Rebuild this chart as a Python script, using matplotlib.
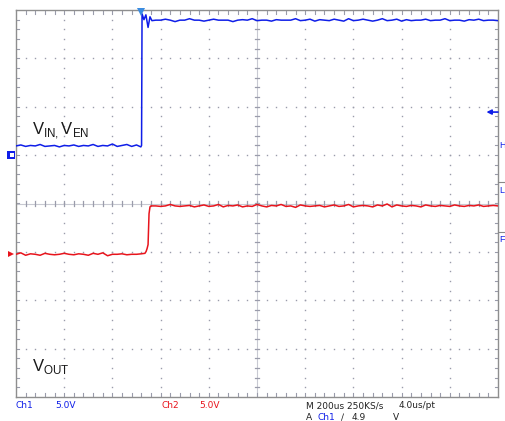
import matplotlib
matplotlib.use("Agg")
import matplotlib.pyplot as plt
import numpy as np

# scope settings
volts_per_div = 5.0
us_per_div = 200.0
ch1_offset = 1.0    # ground marker of Ch1, in divisions from centre
ch2_offset = -1.05  # ground marker of Ch2

# Ch1 (V_IN, V_EN) samples, volts, time in us from left edge of screen
ch1_low_t = [0, 20, 40, 60, 80, 100, 120, 140, 160, 180, 200, 220, 240, 260,
             280, 300, 320, 340, 360, 380, 400, 420, 440, 460, 480, 500, 518]
ch1_low_v = [0.95, 1.05, 0.9, 1.0, 0.95, 1.1, 0.9, 0.95, 1.0, 0.85, 1.0, 0.95,
             1.05, 0.9, 1.0, 0.95, 1.1, 0.9, 1.0, 0.95, 1.15, 0.9, 1.0, 1.1,
             0.9, 1.05, 0.85]
ch1_edge_t = [521, 523, 531, 539, 548, 556, 564]
ch1_edge_v = [1.0, 14.6, 14.0, 14.5, 13.2, 14.3, 13.9]
ch1_high_t = [580, 600, 620, 640, 660, 680, 700, 720, 740, 760, 780, 800, 820,
              840, 860, 880, 900, 920, 940, 960, 980, 1000, 1020, 1040, 1060,
              1080, 1100, 1120, 1140, 1160, 1180, 1200, 1220, 1240, 1260, 1280,
              1300, 1320, 1340, 1360, 1380, 1400, 1420, 1440, 1460, 1480, 1500,
              1520, 1540, 1560, 1580, 1600, 1620, 1640, 1660, 1680, 1700, 1720,
              1740, 1760, 1780, 1800, 1820, 1840, 1860, 1880, 1900, 1920, 1940,
              1960, 1980, 2000]
ch1_high_v = [13.95, 13.95, 14.05, 13.95, 13.8, 13.95, 13.95, 14.1, 13.95,
              13.95, 13.85, 13.95, 14.05, 13.95, 13.95, 13.95, 13.8, 13.95,
              14.0, 13.95, 14.1, 13.9, 13.95, 13.95, 13.85, 14.0, 13.95, 13.95,
              13.95, 14.1, 13.9, 13.95, 14.05, 13.85, 14.0, 13.95, 13.9, 14.05,
              13.95, 13.85, 14.1, 13.9, 13.95, 14.05, 13.95, 13.85, 13.95, 14.1,
              13.9, 13.95, 14.05, 13.85, 14.0, 13.9, 13.95, 13.95, 14.05, 13.9,
              13.95, 13.95, 14.1, 13.9, 13.95, 13.95, 13.85, 14.0, 13.95, 14.05,
              13.9, 13.95, 13.95, 13.9]

# Ch2 (V_OUT) samples
ch2_low_t = [0, 20, 40, 60, 80, 100, 120, 140, 160, 180, 200, 220, 240, 260,
             280, 300, 320, 340, 360, 380, 400, 420, 440, 460, 480, 500, 520, 535]
ch2_low_v = [0.0, 0.15, -0.1, 0.05, 0.0, -0.1, 0.1, 0.0, -0.05, 0.0, 0.1, 0.0,
             -0.05, 0.05, 0.0, -0.1, 0.1, 0.0, 0.15, -0.15, 0.0, 0.0, 0.05,
             -0.05, 0.0, 0.0, 0.05, 0.1]
ch2_edge_t = [540, 544, 548, 552, 556]
ch2_edge_v = [0.3, 0.6, 1.0, 4.2, 4.9]
ch2_high_t = [560, 580, 600, 620, 640, 660, 680, 700, 720, 740, 760, 780, 800,
              820, 840, 860, 880, 900, 920, 940, 960, 980, 1000, 1020, 1040,
              1060, 1080, 1100, 1120, 1140, 1160, 1180, 1200, 1220, 1240, 1260,
              1280, 1300, 1320, 1340, 1360, 1380, 1400, 1420, 1440, 1460, 1480,
              1500, 1520, 1540, 1560, 1580, 1600, 1620, 1640, 1660, 1680, 1700,
              1720, 1740, 1760, 1780, 1800, 1820, 1840, 1860, 1880, 1900, 1920,
              1940, 1960, 1980, 2000]
ch2_high_v = [5.0, 5.0, 4.95, 5.0, 5.15, 5.0, 4.95, 5.0, 5.05, 4.9, 5.0, 5.1,
              4.95, 5.0, 5.15, 4.9, 5.05, 5.0, 5.1, 4.9, 5.0, 4.95, 5.15, 5.0,
              4.9, 5.05, 5.0, 5.15, 4.95, 5.0, 4.85, 5.1, 5.0, 4.95, 5.0, 5.05,
              4.9, 5.0, 5.1, 4.95, 5.0, 5.15, 4.9, 5.0, 5.05, 5.0, 4.9, 5.1, 5.0,
              5.2, 4.9, 5.1, 5.0, 4.95, 5.05, 5.0, 4.9, 5.1, 5.0, 4.95, 5.05,
              5.0, 4.95, 5.1, 5.0, 4.95, 5.05, 5.0, 5.1, 4.95, 5.0, 5.05, 5.0]

trig_t = 519.0
labels = ["Ch1", "5.0V", "Ch2", "5.0V"]

blue = "#0f1ee8"
red = "#e8141c"
grid_c = "#9a9cab"

fig = plt.figure(figsize=(5.05, 4.21), dpi=100)
ax = fig.add_axes([16 / 505, 1 - 397 / 421, 482 / 505, 387 / 421])
ax.set_xlim(-5, 5)
ax.set_ylim(-4, 4)
ax.set_xticks([])
ax.set_yticks([])
for s in ax.spines.values():
    s.set_color("#8e8e8e")
    s.set_linewidth(1.0)

# graticule: dotted division lines
minor = np.arange(-4.8, 5.0, 0.2)
minor_y = np.arange(-3.8, 4.0, 0.2)
for k in range(-4, 5):
    if k == 0:
        continue
    ax.plot(np.full(len(minor_y), k), minor_y, ls="none", marker="s",
            ms=1.0, mew=0, color=grid_c)
for k in range(-3, 4):
    if k == 0:
        continue
    ax.plot(minor, np.full(len(minor), k), ls="none", marker="s",
            ms=1.0, mew=0, color=grid_c)

# centre lines with ticks
ax.axvline(0, color="#c8c9d2", lw=0.8)
ax.axhline(0, color="#c8c9d2", lw=0.8)
for y in minor_y:
    ax.plot([-0.05, 0.05], [y, y], color=grid_c, lw=0.9)
for x in minor:
    ax.plot([x, x], [-0.05, 0.05], color=grid_c, lw=0.9)

# border ticks
for x in minor:
    ax.plot([x, x], [4, 3.92], color=grid_c, lw=0.8)
    ax.plot([x, x], [-4, -3.92], color=grid_c, lw=0.8)
for y in minor_y:
    ax.plot([-5, -4.93], [y, y], color=grid_c, lw=0.8)
    ax.plot([5, 4.93], [y, y], color=grid_c, lw=0.8)

def to_x(t):
    return np.asarray(t, dtype=float) / us_per_div - 5

def to_y(v, off):
    return np.asarray(v, dtype=float) / volts_per_div + off

ch1_t = ch1_low_t + ch1_edge_t + ch1_high_t
ch1_v = ch1_low_v + ch1_edge_v + ch1_high_v
ch2_t = ch2_low_t + ch2_edge_t + ch2_high_t
ch2_v = ch2_low_v + ch2_edge_v + ch2_high_v

ax.plot(to_x(ch1_t), to_y(ch1_v, ch1_offset), color=blue, lw=1.1, zorder=5)
ax.plot(to_x(ch2_t), to_y(ch2_v, ch2_offset), color=red, lw=1.1, zorder=5)

# trigger position marker
ax.plot(to_x([trig_t]), [3.95], marker="v", ms=6, color="#3b8ce0",
        mew=0, clip_on=False, zorder=6)
# trigger level arrow on right edge
ax.annotate("", xy=(4.76, 1.89), xytext=(5.0, 1.89),
            arrowprops=dict(arrowstyle="-|>", color=blue, lw=1.2,
                            mutation_scale=7, shrinkA=0, shrinkB=0))

# channel ground markers on left
ax.plot([-5.1], [ch1_offset], marker="s", ms=6, color=blue, mew=0,
        clip_on=False, zorder=6)
ax.plot([-5.09], [ch1_offset], marker="s", ms=2.2, color="white", mew=0,
        clip_on=False, zorder=7)
ax.plot([-5.1], [ch2_offset], marker=">", ms=5, color=red, mew=0,
        clip_on=False, zorder=6)

# trace labels
ax.text(-4.66, 1.5, r"V$_{\mathregular{IN,}}$V$_{\mathregular{EN}}$",
        fontsize=12, family="Liberation Sans", color="#1a1a1a", va="center")
ax.text(-4.66, -3.37, r"V$_{\mathregular{OUT}}$",
        fontsize=12, family="Liberation Sans", color="#1a1a1a", va="center")

# right edge readouts (partly cut off in the original)
fig.text(499 / 505, 1 - 145 / 421, "H", fontsize=6.5, color=blue,
         family="Liberation Sans", va="center")
fig.text(499 / 505, 1 - 191 / 421, "L", fontsize=6.5, color=blue,
         family="Liberation Sans", va="center")
fig.text(499 / 505, 1 - 240 / 421, "F", fontsize=6.5, color=blue,
         family="Liberation Sans", va="center")
fig.add_artist(plt.Line2D([498 / 505, 1], [1 - 182 / 421] * 2,
                          color="#888888", lw=0.8))
fig.add_artist(plt.Line2D([498 / 505, 1], [1 - 232 / 421] * 2,
                          color="#888888", lw=0.8))

# bottom readouts
fs = 6.5
fam = "DejaVu Sans"
y1 = 1 - 406 / 421
y2 = 1 - 418 / 421
fig.text(16 / 505, y1, labels[0], fontsize=fs, color=blue, family=fam, va="center")
fig.text(55 / 505, y1, labels[1], fontsize=fs, color=blue, family=fam, va="center")
fig.text(161 / 505, y1, labels[2], fontsize=fs, color=red, family=fam, va="center")
fig.text(199 / 505, y1, labels[3], fontsize=fs, color=red, family=fam, va="center")
fig.text(306 / 505, y1, "M 200us 250KS/s", fontsize=fs, color="#222222",
         family=fam, va="center")
fig.text(399 / 505, y1, "4.0us/pt", fontsize=fs, color="#222222",
         family=fam, va="center")
fig.text(306 / 505, y2, "A", fontsize=fs, color="#222222", family=fam, va="center")
fig.text(317 / 505, y2, "Ch1", fontsize=fs, color=blue, family=fam, va="center")
fig.text(341 / 505, y2, "\u2215", fontsize=fs, color="#222222", family=fam, va="center")
fig.text(352 / 505, y2, "4.9", fontsize=fs, color="#222222", family=fam, va="center")
fig.text(393 / 505, y2, "V", fontsize=fs, color="#222222", family=fam, va="center")

fig.savefig("out.png", dpi=100)
